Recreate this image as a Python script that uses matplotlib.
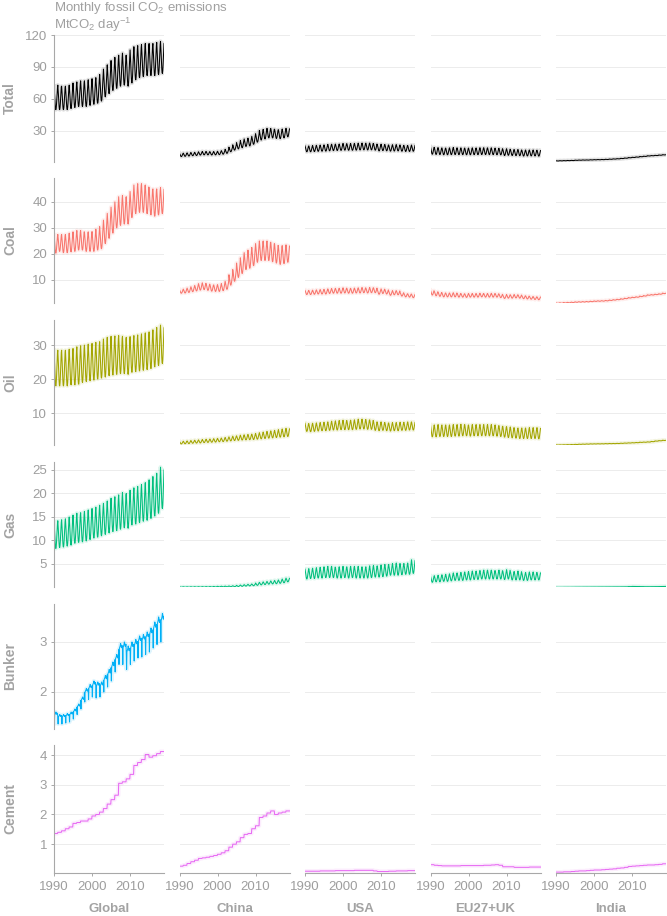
import numpy as np
import matplotlib
matplotlib.use("Agg")
import matplotlib.pyplot as plt

plt.rcParams['font.family'] = ['Liberation Sans', 'DejaVu Sans']
plt.rcParams['mathtext.fontset'] = 'custom'
plt.rcParams['mathtext.rm'] = 'Liberation Sans'
plt.rcParams['mathtext.it'] = 'Liberation Sans:italic'
plt.rcParams['mathtext.bf'] = 'Liberation Sans:bold'

# ---------------- data (MtCO2 per day), yearly low / high of the monthly cycle ----------------
YEARS = list(range(1990, 2019))
REGIONS = ["Global", "China", "USA", "EU27+UK", "India"]
SECTORS = ["Total", "Coal", "Oil", "Gas", "Bunker", "Cement"]

# seasonal shape of the monthly cycle (0 = yearly low, 1 = yearly high)
season_shape = [1.0, 0.82, 0.6, 0.35, 0.15, 0.02, 0.0, 0.08, 0.25, 0.5, 0.75, 0.93]
bunker_shape = [0.7, 0.0, 0.75, 0.8, 0.85, 0.9, 1.0, 0.95, 0.85, 0.8, 0.85, 0.9]

# Total
total_global_low = [50,50,50,50,51,52,53,53,53,54,55,56,58,62,65,68,70,72,73,72,75,78,80,81,82,82,82,83,84]
total_global_high = [72,73,72,72,73,75,76,77,77,78,79,80,83,88,92,96,99,101,103,101,106,109,110,111,112,112,112,113,114]
total_china_low = [6,6.2,6.5,6.8,7,7.4,7.6,7.6,7.5,7.6,7.8,8.2,9,10.5,12,13.2,14.3,15.5,16,17.5,19.5,21.5,22.5,23.5,23.5,23,22.8,23.5,24.5]
total_china_high = [9,9.2,9.5,9.8,10,10.5,10.8,10.8,10.6,10.7,11,11.6,12.8,14.8,17,19,21,22.5,23.3,25,27.5,30.5,31.5,32.5,32.3,31.5,31.2,31.8,32.5]
total_usa_low = [10.5,10.5,10.7,10.9,11,11.1,11.4,11.6,11.7,11.8,12,11.9,11.9,12,12.2,12.3,12.2,12.3,12,11.3,11.6,11.4,11.1,11.2,11.3,11,10.8,10.8,11]
total_usa_high = [16,16,16.3,16.6,16.8,17,17.4,17.6,17.7,17.8,18.3,18.1,18.2,18.4,18.6,18.7,18.6,18.7,18.2,17.2,17.6,17.3,16.8,17.1,17.2,16.8,16.5,16.4,16.8]
total_eu_low = [8.2,8,7.9,7.7,7.7,7.8,7.9,7.8,7.8,7.7,7.7,7.8,7.8,7.9,7.9,7.8,7.8,7.7,7.6,7,7.2,7,6.9,6.8,6.5,6.6,6.6,6.6,6.4]
total_eu_high = [15,14.6,14.4,14.1,14,14.2,14.5,14.2,14.2,14,14,14.2,14.1,14.3,14.3,14.2,14.2,13.9,13.8,12.9,13.3,12.7,12.6,12.6,12,12.2,12.2,12.2,12]
total_india_low = [1.8,1.9,2.0,2.1,2.2,2.4,2.5,2.6,2.65,2.8,2.9,2.95,3.05,3.2,3.4,3.6,3.8,4.1,4.4,4.8,5.1,5.4,5.8,6.1,6.5,6.7,6.9,7.2,7.5]
total_india_high = [2.05,2.15,2.25,2.35,2.45,2.65,2.75,2.85,2.9,3.05,3.15,3.2,3.3,3.45,3.65,3.85,4.05,4.35,4.65,5.05,5.35,5.65,6.05,6.35,6.75,6.95,7.15,7.45,7.75]

# Coal
coal_global_low = [20.3,21,20.5,20.5,20.8,21,21.5,21.5,21,21,21,21.5,22,24,26,28,30,31,31.5,31.5,34,35.5,36,36,35.5,35,34.5,35,35.5]
coal_global_high = [27.3,27.5,27.5,27.5,28,28.5,29,29,28.5,28.5,28.6,29.5,30.5,33,35.6,38,40,42,42.5,42,44,46.5,47,47,46.5,45.5,45,45,45.5]
coal_china_low = [4.9,5.0,5.2,5.5,5.8,6.1,6.3,6.0,5.7,5.6,5.6,5.9,6.4,8,9.5,11,12.5,14,14.5,15.5,16.8,17.5,17.5,17.5,17,16.5,16,16.3,16.8]
coal_china_high = [6.2,6.5,6.9,7.4,7.9,8.6,8.9,8.6,8.2,8.1,8.2,8.6,9.5,12,14,16.5,18.5,20.5,21.5,22.5,24,25,25,25,24.5,23.8,23,23.2,23.5]
coal_usa_low = [4.4,4.4,4.5,4.6,4.6,4.6,4.8,4.9,4.9,4.9,5.0,4.9,4.9,5.0,5.0,5.1,5.0,5.1,5.1,4.5,4.8,4.6,4.1,4.3,4.3,3.8,3.5,3.4,3.2]
coal_usa_high = [6.0,6.0,6.1,6.2,6.3,6.4,6.6,6.7,6.8,6.8,7.0,6.8,6.8,6.9,7.0,7.1,6.9,7.1,7.0,6.3,6.6,6.3,5.7,5.9,5.9,5.2,4.8,4.7,4.5]
coal_eu_low = [4.2,3.9,3.7,3.5,3.5,3.5,3.5,3.4,3.4,3.3,3.4,3.4,3.4,3.5,3.4,3.4,3.4,3.4,3.2,2.9,3.0,3.0,3.1,3.0,2.8,2.7,2.6,2.5,2.4]
coal_eu_high = [6.0,5.6,5.3,5.1,5.0,5.0,5.1,4.9,4.8,4.7,4.8,4.8,4.8,4.9,4.8,4.8,4.9,4.8,4.6,4.2,4.4,4.3,4.4,4.3,4.0,3.9,3.7,3.6,3.5]
coal_india_low = [1.0,1.05,1.15,1.2,1.3,1.4,1.45,1.5,1.55,1.65,1.75,1.8,1.85,1.95,2.1,2.25,2.4,2.6,2.8,3.05,3.2,3.35,3.6,3.8,4.1,4.2,4.35,4.5,4.75]
coal_india_high = [1.2,1.25,1.35,1.4,1.5,1.6,1.65,1.7,1.75,1.85,1.95,2.0,2.05,2.15,2.3,2.45,2.6,2.8,3.0,3.25,3.4,3.55,3.8,4.0,4.3,4.4,4.55,4.7,4.95]

# Oil
oil_global_low = [18,18,18,18,18.3,18.3,18.5,19,19.3,19.5,19.7,20,20.3,20.6,21,21.2,21.4,21.6,21.6,21.4,22,22.2,22.4,22.6,22.8,23.1,23.6,24,24.6]
oil_global_high = [28.5,28.5,28.5,28.5,28.8,29,29.5,29.8,30,30.3,30.5,30.8,31,31.8,32.3,32.6,32.7,32.8,32.6,32.3,32.5,32.8,33,33.3,33.6,33.9,34.5,35.2,35.9]
oil_china_low = [0.9,0.95,1.0,1.1,1.15,1.2,1.3,1.35,1.4,1.45,1.55,1.6,1.7,1.8,1.9,1.95,2.05,2.1,2.15,2.2,2.3,2.4,2.5,2.6,2.7,2.8,2.9,3.0,3.1]
oil_china_high = [1.6,1.7,1.8,1.9,2.0,2.1,2.2,2.3,2.35,2.45,2.55,2.65,2.8,3.0,3.2,3.3,3.5,3.6,3.7,3.8,4.0,4.2,4.4,4.6,4.75,4.9,5.1,5.3,5.5]
oil_usa_low = [4.6,4.5,4.6,4.7,4.8,4.8,4.9,5.0,5.0,5.1,5.1,5.1,5.1,5.2,5.3,5.3,5.2,5.2,4.9,4.8,4.9,4.8,4.7,4.8,4.8,4.9,4.9,5.0,5.0]
oil_usa_high = [7.0,6.9,7.0,7.1,7.2,7.3,7.4,7.6,7.7,7.8,7.9,7.8,7.9,8.0,8.2,8.2,8.1,8.0,7.6,7.3,7.4,7.2,7.1,7.2,7.2,7.3,7.3,7.4,7.4]
oil_eu_low = [3.0,3.0,3.1,3.1,3.1,3.1,3.2,3.2,3.3,3.3,3.2,3.3,3.3,3.3,3.3,3.3,3.3,3.2,3.1,2.9,2.8,2.7,2.6,2.5,2.5,2.5,2.5,2.5,2.4]
oil_eu_high = [6.5,6.5,6.6,6.5,6.5,6.5,6.6,6.6,6.7,6.6,6.5,6.6,6.6,6.6,6.6,6.6,6.6,6.5,6.3,6.1,6.0,5.9,5.7,5.6,5.6,5.6,5.7,5.7,5.7]
oil_india_low = [0.56,0.58,0.61,0.63,0.66,0.71,0.76,0.79,0.82,0.86,0.88,0.89,0.91,0.93,0.96,0.98,1.01,1.06,1.11,1.16,1.21,1.26,1.34,1.38,1.44,1.56,1.71,1.81,1.91]
oil_india_high = [0.64,0.66,0.69,0.71,0.74,0.79,0.84,0.87,0.9,0.94,0.96,0.97,0.99,1.01,1.04,1.06,1.09,1.14,1.19,1.24,1.29,1.34,1.42,1.46,1.52,1.64,1.79,1.89,1.99]

# Gas
gas_global_low = [8.3,8.5,8.6,8.8,9.0,9.4,9.6,9.7,9.9,10.2,10.5,10.7,11,11.3,11.6,11.9,12.1,12.4,12.7,12.6,13.3,13.5,13.8,14.1,14.3,14.7,15.2,15.8,16.8]
gas_global_high = [14.0,14.2,14.4,14.6,15.0,15.4,15.8,15.9,16.2,16.5,16.8,17.1,17.5,17.9,18.4,19.0,19.3,19.7,20.2,20.0,20.7,21.2,21.5,21.9,22.3,22.9,23.6,24.3,25.6]
gas_china_low = [0.05,0.05,0.05,0.05,0.06,0.06,0.07,0.07,0.08,0.09,0.1,0.11,0.12,0.14,0.16,0.2,0.24,0.29,0.33,0.37,0.45,0.55,0.62,0.7,0.76,0.8,0.88,1.0,1.2]
gas_china_high = [0.15,0.15,0.15,0.16,0.16,0.17,0.18,0.19,0.2,0.22,0.25,0.27,0.29,0.32,0.36,0.45,0.52,0.6,0.68,0.75,0.95,1.1,1.2,1.3,1.4,1.5,1.6,1.8,2.0]
gas_usa_low = [1.8,1.9,1.9,2.0,2.0,2.1,2.1,2.1,2.0,2.0,2.1,2.0,2.1,2.0,2.0,2.0,2.0,2.1,2.2,2.2,2.3,2.4,2.6,2.6,2.6,2.7,2.8,2.8,3.0]
gas_usa_high = [3.9,4.0,4.1,4.2,4.3,4.4,4.5,4.5,4.3,4.4,4.5,4.4,4.5,4.5,4.5,4.4,4.4,4.6,4.7,4.6,4.8,4.9,4.9,5.1,5.2,5.1,5.1,5.2,5.9]
gas_eu_low = [1.1,1.2,1.2,1.3,1.3,1.4,1.5,1.5,1.5,1.6,1.6,1.7,1.7,1.8,1.8,1.8,1.8,1.8,1.8,1.7,1.8,1.6,1.6,1.6,1.5,1.5,1.6,1.6,1.6]
gas_eu_high = [2.4,2.5,2.6,2.7,2.8,2.9,3.1,3.1,3.2,3.3,3.4,3.5,3.5,3.6,3.7,3.7,3.7,3.6,3.7,3.5,3.8,3.4,3.4,3.5,3.1,3.2,3.3,3.3,3.2]
gas_india_low = [0.02,0.03,0.04,0.04,0.05,0.06,0.06,0.07,0.07,0.08,0.08,0.09,0.09,0.1,0.1,0.11,0.11,0.12,0.13,0.17,0.2,0.19,0.17,0.15,0.15,0.16,0.17,0.19,0.21]
gas_india_high = [0.04,0.05,0.06,0.06,0.07,0.08,0.08,0.09,0.09,0.1,0.1,0.11,0.11,0.12,0.12,0.13,0.13,0.14,0.15,0.19,0.22,0.21,0.19,0.17,0.17,0.18,0.19,0.21,0.23]

# Bunker (global only)
bunker_global_low = [1.36,1.36,1.36,1.38,1.40,1.46,1.55,1.66,1.80,1.85,1.9,1.88,1.9,2.0,2.1,2.22,2.4,2.55,2.55,2.45,2.55,2.62,2.68,2.7,2.75,2.8,2.88,2.95,3.0]
bunker_global_high = [1.6,1.55,1.55,1.57,1.6,1.66,1.76,1.9,2.07,2.15,2.22,2.2,2.2,2.33,2.45,2.6,2.75,2.97,3.0,2.92,3.0,3.05,3.12,3.15,3.2,3.28,3.4,3.5,3.57]

# Cement (annual values)
cement_global = [1.36,1.40,1.45,1.52,1.58,1.70,1.73,1.78,1.78,1.85,1.95,2.0,2.08,2.2,2.35,2.5,2.65,3.05,3.1,3.2,3.35,3.65,3.75,3.85,4.02,3.93,3.98,4.05,4.12]
cement_china = [0.26,0.29,0.35,0.41,0.46,0.52,0.54,0.56,0.59,0.62,0.66,0.71,0.78,0.90,1.00,1.08,1.22,1.33,1.36,1.52,1.62,1.90,1.95,2.05,2.12,2.0,2.05,2.08,2.12]
cement_usa = [0.09,0.09,0.09,0.09,0.1,0.1,0.1,0.1,0.11,0.11,0.11,0.11,0.11,0.12,0.12,0.12,0.12,0.12,0.1,0.08,0.08,0.08,0.09,0.09,0.1,0.1,0.1,0.11,0.11]
cement_eu = [0.31,0.29,0.28,0.27,0.27,0.27,0.27,0.27,0.28,0.28,0.28,0.28,0.28,0.28,0.29,0.29,0.3,0.31,0.29,0.24,0.24,0.24,0.22,0.22,0.22,0.22,0.23,0.23,0.23]
cement_india = [0.06,0.06,0.07,0.07,0.08,0.09,0.1,0.1,0.11,0.12,0.13,0.13,0.14,0.15,0.16,0.17,0.19,0.2,0.22,0.25,0.26,0.27,0.28,0.29,0.3,0.3,0.31,0.32,0.34]

# axis settings per row
row_ticks = {"Total": [30, 60, 90, 120], "Coal": [10, 20, 30, 40], "Oil": [10, 20, 30],
             "Gas": [5, 10, 15, 20, 25], "Bunker": [2, 3], "Cement": [1, 2, 3, 4]}
row_ylim = {"Total": (0.9, 120), "Coal": (1.15, 49.2), "Oil": (0.59, 37.4),
            "Gas": (0.1, 26.7), "Bunker": (1.26, 3.76), "Cement": (0.03, 4.34)}
colors = {"Total": "#000000", "Coal": "#F8766D", "Oil": "#A3A500", "Gas": "#00BF7D",
          "Bunker": "#00B0F6", "Cement": "#E76BF3"}

series = {
    ("Total", "Global"): (total_global_low, total_global_high, season_shape),
    ("Total", "China"): (total_china_low, total_china_high, season_shape),
    ("Total", "USA"): (total_usa_low, total_usa_high, season_shape),
    ("Total", "EU27+UK"): (total_eu_low, total_eu_high, season_shape),
    ("Total", "India"): (total_india_low, total_india_high, season_shape),
    ("Coal", "Global"): (coal_global_low, coal_global_high, season_shape),
    ("Coal", "China"): (coal_china_low, coal_china_high, season_shape),
    ("Coal", "USA"): (coal_usa_low, coal_usa_high, season_shape),
    ("Coal", "EU27+UK"): (coal_eu_low, coal_eu_high, season_shape),
    ("Coal", "India"): (coal_india_low, coal_india_high, season_shape),
    ("Oil", "Global"): (oil_global_low, oil_global_high, season_shape),
    ("Oil", "China"): (oil_china_low, oil_china_high, season_shape),
    ("Oil", "USA"): (oil_usa_low, oil_usa_high, season_shape),
    ("Oil", "EU27+UK"): (oil_eu_low, oil_eu_high, season_shape),
    ("Oil", "India"): (oil_india_low, oil_india_high, season_shape),
    ("Gas", "Global"): (gas_global_low, gas_global_high, season_shape),
    ("Gas", "China"): (gas_china_low, gas_china_high, season_shape),
    ("Gas", "USA"): (gas_usa_low, gas_usa_high, season_shape),
    ("Gas", "EU27+UK"): (gas_eu_low, gas_eu_high, season_shape),
    ("Gas", "India"): (gas_india_low, gas_india_high, season_shape),
    ("Bunker", "Global"): (bunker_global_low, bunker_global_high, bunker_shape),
    ("Cement", "Global"): (cement_global, cement_global, season_shape),
    ("Cement", "China"): (cement_china, cement_china, season_shape),
    ("Cement", "USA"): (cement_usa, cement_usa, season_shape),
    ("Cement", "EU27+UK"): (cement_eu, cement_eu, season_shape),
    ("Cement", "India"): (cement_india, cement_india, season_shape),
}

t = np.array([y + m / 12 for y in YEARS for m in range(12)])

def monthly(low, high, shape):
    return np.array([lo + (hi - lo) * s for lo, hi in zip(low, high) for s in shape])

# ---------------- layout ----------------
W, H = 667, 916
fig = plt.figure(figsize=(W / 100, H / 100), dpi=100)
col_left = [54, 179.5, 305, 430.5, 556]
col_w = 110
rows_px = [(35, 162), (178, 303), (320, 445), (462, 587), (604, 729), (745, 873)]
GRAY = "#9e9e9e"
AXC = "#a8a8a8"
LABC = "#a3a3a3"

for ri, sec in enumerate(SECTORS):
    top, bot = rows_px[ri]
    for ci, reg in enumerate(REGIONS):
        ax = fig.add_axes([col_left[ci] / W, 1 - bot / H, col_w / W, (bot - top) / H])
        ax.set_xlim(t[0], t[-1])
        ax.set_ylim(*row_ylim[sec])
        ax.set_yticks(row_ticks[sec])
        ax.grid(axis="y", color="#ececec", lw=0.7)
        ax.set_axisbelow(True)
        for s in ax.spines.values():
            s.set_visible(False)
        ax.tick_params(axis="both", colors=AXC, labelcolor=GRAY, labelsize=9.5,
                       length=2.5, width=0.7, pad=2.5)
        if ci == 0:
            ax.spines["left"].set_visible(True)
            ax.spines["left"].set_color(AXC)
            ax.spines["left"].set_linewidth(0.8)
        else:
            ax.tick_params(axis="y", left=False, labelleft=False)
        if ri == len(SECTORS) - 1:
            ax.spines["bottom"].set_visible(True)
            ax.spines["bottom"].set_color(AXC)
            ax.spines["bottom"].set_linewidth(0.8)
            ax.set_xticks([1990, 2000, 2010])
            ax.tick_params(axis="x", pad=3.5)
        else:
            ax.set_xticks([])
        key = (sec, reg)
        if key in series:
            lo, hi, sh = series[key]
            v = monthly(lo, hi, sh)
            c = colors[sec]
            ax.plot(t, v, color=c, lw=3.0, alpha=0.12, solid_joinstyle="round")
            ax.plot(t, v, color=c, lw=0.75)
    # row label
    fig.text(10 / W, 1 - ((top + bot) / 2) / H, sec, rotation=90, ha="center", va="center",
             fontsize=10, fontweight="bold", color=LABC)

for ci, reg in enumerate(REGIONS):
    fig.text((col_left[ci] + col_w / 2) / W, 1 - 909 / H, reg, ha="center", va="center",
             fontsize=9.5, fontweight="bold", color=LABC)

fig.text(54 / W, 1 - 11 / H, "Monthly fossil CO$_2$ emissions", ha="left", va="baseline",
         fontsize=9.5, color="#a0a0a0")
fig.text(54 / W, 1 - 29.5 / H, "MtCO$_2$ day$^{-1}$", ha="left", va="baseline",
         fontsize=9.5, color="#a0a0a0")

fig.savefig("out.png", dpi=100)
